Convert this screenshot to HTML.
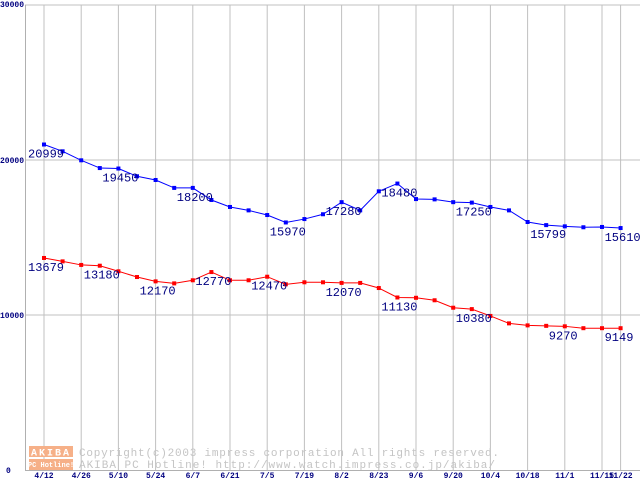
<!DOCTYPE html>
<html><head><meta charset="utf-8"><style>
body{margin:0;background:#fff}
svg{display:block}
text{font-family:"Liberation Mono","DejaVu Sans Mono",monospace}
</style></head><body>
<svg id="chart" width="640" height="480" xmlns="http://www.w3.org/2000/svg">
<g id="grid"></g>
<g id="wm">
<rect x="29" y="446" width="44" height="11" fill="#f6b088"/>
<rect x="29" y="459" width="44" height="11" fill="#f6b088"/>
<text x="51" y="455.5" font-size="10" font-weight="bold" fill="#fff" text-anchor="middle" letter-spacing="2">AKIBA</text>
<text x="51" y="467" font-size="7" font-weight="bold" fill="#fff" text-anchor="middle">PC Hotline!</text>
<text x="79" y="456" font-size="11" fill="#c4c4c4" textLength="420">Copyright(c)2003 impress corporation All rights reserved.</text>
<text x="79" y="468" font-size="11" fill="#c4c4c4" textLength="416">AKIBA PC Hotline!  http://www.watch.impress.co.jp/akiba/</text>
</g>
<g id="axes"></g>
<g id="series"></g>
</svg>
<script>
const yTicks=[0,10000,20000,30000];
const xLabels=["4/12","4/26","5/10","5/24","6/7","6/21","7/5","7/19","8/2","8/23","9/6","9/20","10/4","10/18","11/1","11/15","11/22"];
const xLabelIdx=[0,2,4,6,8,10,12,14,16,18,20,22,24,26,28,30,31];
const blue=[20999,20560,19980,19480,19450,18950,18710,18200,18200,17420,16970,16750,16450,15970,16190,16500,17280,16750,17980,18480,17480,17460,17280,17250,16970,16750,16000,15799,15720,15660,15680,15610];
const red=[13679,13460,13230,13180,12820,12450,12170,12040,12240,12770,12240,12240,12470,11980,12110,12110,12070,12070,11740,11130,11110,10950,10470,10380,9940,9460,9330,9300,9270,9149,9149,9149];
const blueLabelIdx=[0,4,8,13,16,19,23,27,31];
const redLabelIdx=[0,3,6,9,12,16,19,23,28,31];
const NS="http://www.w3.org/2000/svg";
const X0=44,DX=18.6,Y0=470,YTOP=5,YMAX=30000;
const xs=i=>X0+i*DX;
const ys=v=>Y0-(v/YMAX)*(Y0-YTOP);
function mk(tag,attrs,parent){const e=document.createElementNS(NS,tag);for(const k in attrs)e.setAttribute(k,attrs[k]);parent.appendChild(e);return e;}
const grid=document.getElementById('grid'),axes=document.getElementById('axes'),series=document.getElementById('series');
yTicks.forEach(v=>{
 if(v>0){const l=mk('line',{x1:25,x2:640,y1:ys(v),y2:ys(v),stroke:'#c0c0c0','stroke-width':1},grid);
 
 }
 const t=mk('text',{x:v===0?6:0,y:ys(v)+(v===YMAX?2:3),'font-size':8,'font-weight':'bold',fill:'#000080'},axes);
 t.textContent=String(v);
 
 
});
xLabelIdx.forEach((idx,k)=>{
 const x=xs(idx);
 const l=mk('line',{x1:x,x2:x,y1:YTOP,y2:Y0,stroke:'#c0c0c0','stroke-width':1},grid);
 
 
 const t=mk('text',{x:x,y:478,'font-size':8,'font-weight':'bold',fill:'#000080','text-anchor':'middle'},axes);
 t.textContent=xLabels[k];
 
 
});
const ax=mk('path',{d:`M25.5 ${YTOP} V${Y0+0.5} H640`,stroke:'#b0b0b0',fill:'none','stroke-width':1},axes);


function drawSeries(vals,color,name,labelIdx){
 const p=mk('polyline',{points:vals.map((v,i)=>xs(i)+','+ys(v)).join(' '),fill:'none',stroke:color,'stroke-width':1},series);
 
 
 vals.forEach((v,i)=>{
  const r=mk('rect',{x:xs(i)-2,y:ys(v)-2,width:4,height:4,fill:color},series);
  
  
 });
 labelIdx.forEach(i=>{
  const t=mk('text',{x:xs(i)-16,y:ys(vals[i])+13,'font-size':12,fill:'#000080'},series);
  t.textContent=String(vals[i]);
  
  
 });
}
drawSeries(blue,'#0000ff','blue-series',blueLabelIdx);
drawSeries(red,'#ff0000','red-series',redLabelIdx);
</script>
</body></html>
